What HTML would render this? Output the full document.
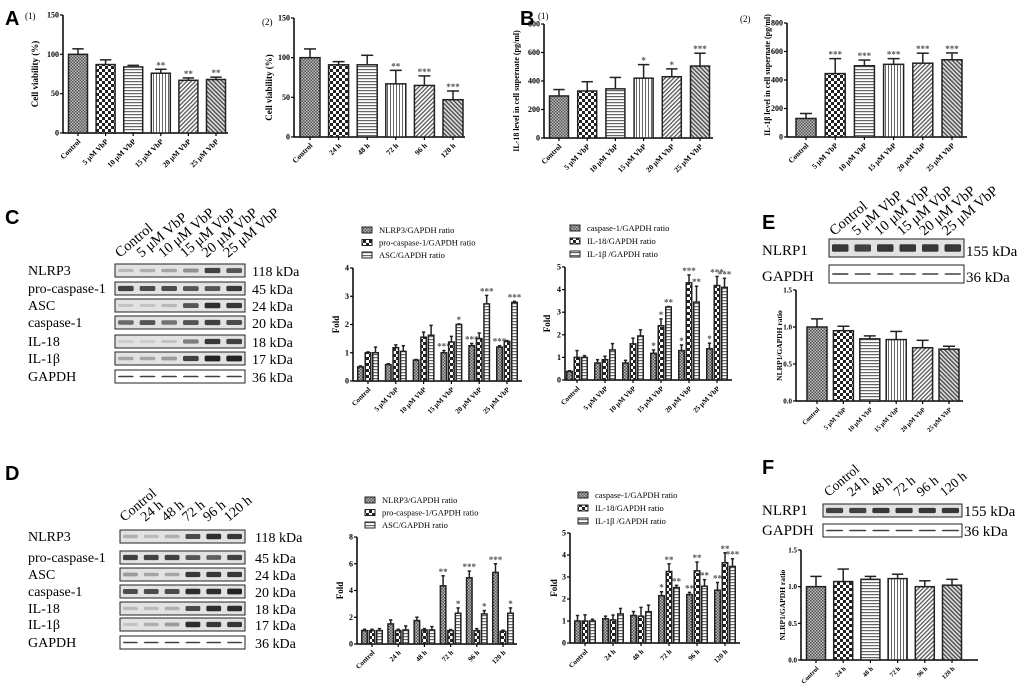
<!DOCTYPE html>
<html><head><meta charset="utf-8"><style>
html,body{margin:0;padding:0;background:#fff;width:1020px;height:694px;overflow:hidden}
svg text{font-family:"Liberation Serif",serif}
</style></head><body>
<svg id="fig" xmlns="http://www.w3.org/2000/svg" width="1020" height="694" viewBox="0 0 1020 694">
<defs>
<pattern id="pDense" width="3" height="3" patternUnits="userSpaceOnUse"><rect width="3" height="3" fill="#bbb"/><rect width="1.5" height="1.5" fill="#555"/><rect x="1.5" y="1.5" width="1.5" height="1.5" fill="#555"/></pattern>
<pattern id="pCheck" width="6" height="6" patternUnits="userSpaceOnUse"><rect width="6" height="6" fill="#222"/><rect width="3" height="3" fill="#fff"/><rect x="3" y="3" width="3" height="3" fill="#fff"/></pattern>
<pattern id="pHoriz" width="4" height="3" patternUnits="userSpaceOnUse"><rect width="4" height="3" fill="#fff"/><rect width="4" height="1.2" fill="#666"/></pattern>
<pattern id="pVert" width="3" height="4" patternUnits="userSpaceOnUse"><rect width="3" height="4" fill="#fff"/><rect width="1" height="4" fill="#666"/></pattern>
<pattern id="pDiag1" width="3" height="3" patternUnits="userSpaceOnUse" patternTransform="rotate(45)"><rect width="3" height="3" fill="#fff"/><rect width="1.3" height="3" fill="#555"/></pattern>
<pattern id="pDiag2" width="3" height="3" patternUnits="userSpaceOnUse" patternTransform="rotate(-45)"><rect width="3" height="3" fill="#ddd"/><rect width="1.3" height="3" fill="#444"/></pattern>
</defs>
<g id="root"></g>
</svg>
<script>
// ---- Data ----
const doseCats = ["Control","5 μM VbP","10 μM VbP","15 μM VbP","20 μM VbP","25 μM VbP"];
const timeCats = ["Control","24 h","48 h","72 h","96 h","120 h"];

const a1Vals = [100,87,84,76,67,68];
const a1Errs = [7,6,2,5,3,3];
const a1Stars = ["","","","**","**","**"];
const a2Vals = [100,91,91,67,65,47];
const a2Errs = [11,4,12,17,12,11];
const a2Stars = ["","","","**","***","***"];
const b1Vals = [295,330,345,420,430,505];
const b1Errs = [45,65,80,95,55,90];
const b1Stars = ["","","","*","*","***"];
const b2Vals = [130,445,500,510,518,542];
const b2Errs = [35,105,40,40,70,48];
const b2Stars = ["","***","***","***","***","***"];
const pctTicks = [0,50,100,150];
const pgTicks = [0,200,400,600,800];

const c1Nlrp3 = [0.5,0.58,0.74,1.0,1.25,1.2];
const c1Nlrp3Err = [0.03,0.03,0.02,0.08,0.08,0.05];
const c1Pro = [1.0,1.18,1.55,1.38,1.5,1.4];
const c1ProErr = [0.03,0.1,0.18,0.2,0.2,0.03];
const c1Asc = [1.0,1.05,1.62,2.0,2.73,2.78];
const c1AscErr = [0.2,0.2,0.35,0.02,0.3,0.04];
const c1Stars = [["","",""],["","",""],["","",""],["***","","*"],["***","","***"],["***","","***"]];
const c1Ticks = [0,1,2,3,4];

const c2Casp = [0.38,0.75,0.75,1.18,1.3,1.38];
const c2CaspErr = [0.03,0.15,0.12,0.15,0.25,0.25];
const c2Il18 = [1.0,0.9,1.6,2.4,4.3,4.18];
const c2Il18Err = [0.3,0.15,0.25,0.3,0.35,0.4];
const c2Il1b = [1.0,1.33,1.95,3.23,3.45,4.1];
const c2Il1bErr = [0.08,0.28,0.27,0.02,0.7,0.4];
const c2Stars = [["","",""],["","",""],["","",""],["*","*","**"],["*","***","**"],["*","***","***"]];
const c2Ticks = [0,1,2,3,4,5];

const d1Nlrp3 = [1.0,1.5,1.75,4.35,4.95,5.35];
const d1Nlrp3Err = [0.1,0.3,0.25,0.75,0.5,0.65];
const d1Pro = [1.0,1.0,1.05,1.0,1.0,0.95];
const d1ProErr = [0.1,0.1,0.1,0.08,0.15,0.08];
const d1Asc = [1.0,1.05,1.05,2.3,2.25,2.3];
const d1AscErr = [0.15,0.3,0.25,0.4,0.25,0.4];
const d1Stars = [["","",""],["","",""],["","",""],["**","","*"],["***","","*"],["***","","*"]];
const d1Ticks = [0,2,4,6,8];

const d2Casp = [1.0,1.1,1.25,2.15,2.2,2.4];
const d2CaspErr = [0.25,0.12,0.18,0.18,0.1,0.35];
const d2Il18 = [1.0,1.05,1.22,3.25,3.28,3.65];
const d2Il18Err = [0.28,0.22,0.4,0.35,0.4,0.45];
const d2Il1b = [1.0,1.32,1.42,2.52,2.58,3.48];
const d2Il1bErr = [0.08,0.25,0.3,0.1,0.3,0.35];
const d2Stars = [["","",""],["","",""],["","",""],["*","**","**"],["**","**","**"],["**","**","***"]];
const d2Ticks = [0,1,2,3,4,5];

const eVals = [1.0,0.95,0.84,0.83,0.72,0.7];
const eErrs = [0.11,0.06,0.04,0.11,0.1,0.04];
const fVals = [1.0,1.07,1.1,1.11,1.0,1.02];
const fErrs = [0.14,0.17,0.04,0.06,0.08,0.08];
const ratioTicks = [0,0.5,1.0,1.5];

const singlePats = ["pDense","pCheck","pHoriz","pVert","pDiag1","pDiag2"];
const groupPats = ["pDense","pCheck","pHoriz"];

// ---- helpers ----
const NS="http://www.w3.org/2000/svg";
const root=document.getElementById('root');
function mk(tag,attrs,parent,text){const e=document.createElementNS(NS,tag);for(const k in attrs)e.setAttribute(k,attrs[k]);if(text!==undefined)e.textContent=text;(parent||root).appendChild(e);return e;}

function axes(g,cfg,ticks,fmt){
  const y=v=>cfg.yZero-(v/cfg.max)*(cfg.yZero-cfg.yTop);
  const ax=mk('line',{x1:cfg.ax,y1:cfg.yTop,x2:cfg.ax,y2:cfg.yZero,stroke:'#000','stroke-width':1.5},g);
  
  
  const xl=mk('line',{x1:cfg.ax,y1:cfg.yZero,x2:cfg.xEnd,y2:cfg.yZero,stroke:'#000','stroke-width':1.5},g);
  
  
  ticks.forEach(t=>{
    mk('line',{x1:cfg.ax-3,y1:y(t),x2:cfg.ax,y2:y(t),stroke:'#000','stroke-width':1.2},g);
    const tl=mk('text',{x:cfg.ax-4,y:y(t)+2.5,'font-size':cfg.tfs||8,'font-weight':'bold','text-anchor':'end'},g,fmt?fmt(t):String(t));
    
    
  });
  const lx=cfg.ylx, ly=(cfg.yTop+cfg.yZero)/2+(cfg.yloff||0);
  const yl=mk('text',{x:lx,y:ly,'font-size':cfg.ylfs||9,'font-weight':'bold','text-anchor':'middle',transform:`rotate(-90 ${lx} ${ly})`},g,cfg.ylabel);
  
  
  return y;
}
function catLabels(g,cfg,cats,cx){
  cats.forEach((c,i)=>{
    const x=cx(i);
    mk('line',{x1:x,y1:cfg.yZero,x2:x,y2:cfg.yZero+3,stroke:'#000','stroke-width':1.2},g);
    const t=mk('text',{x:x+3,y:cfg.yZero+9,'font-size':cfg.cfs||7.5,'font-weight':'bold','text-anchor':'end',transform:`rotate(-45 ${x+3} ${cfg.yZero+9})`},g,c);
    
    
  });
}
function bar(g,x,w,v,e,y,pat,star){
  const r=mk('rect',{x:x-w/2,y:y(v),width:w,height:y(0)-y(v),fill:`url(#${pat})`,stroke:'#222','stroke-width':1.5},g);
  
  
  const ye=y(v+e);
  mk('line',{x1:x,y1:y(v),x2:x,y2:ye,stroke:'#222','stroke-width':1.5},g);
  mk('line',{x1:x-w*0.3,y1:ye,x2:x+w*0.3,y2:ye,stroke:'#222','stroke-width':1.5},g);
  if(star){const s=mk('text',{x:x,y:ye-1,'font-size':9,'font-weight':'bold','text-anchor':'middle',fill:'#555'},g,star);
    
    }
}
function singleChart(name,cfg,cats,vals,errs,stars,ticks,fmt){
  const g=mk('g',{});
  
  
  const y=axes(g,cfg,ticks,fmt);
  const cx=i=>cfg.c0+i*(cfg.cN-cfg.c0)/(cats.length-1);
  vals.forEach((v,i)=>bar(g,cx(i),cfg.bw,v,errs[i],y,singlePats[i],stars?stars[i]:""));
  catLabels(g,cfg,cats,cx);
}
function groupChart(name,cfg,cats,series,errsArr,stars,ticks,legend){
  const g=mk('g',{});
  
  
  const y=axes(g,cfg,ticks);
  const cx=i=>cfg.c0+i*(cfg.cN-cfg.c0)/(cats.length-1);
  series.forEach((s,k)=>s.forEach((v,i)=>bar(g,cx(i)+(k-1)*(cfg.bw+2),cfg.bw,v,errsArr[k][i],y,groupPats[k],stars[i][k])));
  catLabels(g,cfg,cats,cx);
  legend.forEach((l,k)=>{
    const ly=cfg.legY+k*cfg.legDy;
    mk('rect',{x:cfg.legX,y:ly-5,width:10,height:6,fill:`url(#${groupPats[k]})`,stroke:'#222','stroke-width':1},g);
    const t=mk('text',{x:cfg.legX+17,y:ly+1,'font-size':8.5},g,l);
    
    
  });
}
const pctFmt=t=>String(t);
const ratioFmt=t=>t.toFixed(1);

// Panel A
singleChart('chart-a1',{ax:63,yTop:15,yZero:133,xEnd:228,max:150,c0:78,cN:216,bw:19,ylx:38,ylabel:'Cell viability (%)'},doseCats,a1Vals,a1Errs,a1Stars,pctTicks,pctFmt);
singleChart('chart-a2',{ax:294,yTop:18,yZero:137,xEnd:465,max:150,c0:310,cN:453,bw:20,ylx:272,yloff:10,ylabel:'Cell viability (%)'},timeCats,a2Vals,a2Errs,a2Stars,pctTicks,pctFmt);
// Panel B
singleChart('chart-b1',{ax:544,yTop:24,yZero:138,xEnd:713,max:800,c0:559,cN:700,bw:19,ylx:519,ylfs:8,yloff:10,ylabel:'IL-18 level in cell supernate (pg/ml)'},doseCats,b1Vals,b1Errs,b1Stars,pgTicks,pctFmt);
singleChart('chart-b2',{ax:787,yTop:23,yZero:137,xEnd:967,max:800,c0:806,cN:952,bw:20,ylx:770,ylfs:8,yloff:-5,ylabel:'IL-1β  level in cell supernate (pg/ml)'},doseCats,b2Vals,b2Errs,b2Stars,pgTicks,pctFmt);
// Panel C charts
groupChart('chart-c1',{ax:353,yTop:268,yZero:381,xEnd:522,max:4,c0:368,cN:507,bw:5.5,ylx:339,ylabel:'Fold',legX:362,legY:232,legDy:12.5,cfs:7},doseCats,[c1Nlrp3,c1Pro,c1Asc],[c1Nlrp3Err,c1ProErr,c1AscErr],c1Stars,c1Ticks,['NLRP3/GAPDH ratio','pro-caspase-1/GAPDH ratio','ASC/GAPDH ratio']);
groupChart('chart-c2',{ax:565,yTop:267,yZero:380,xEnd:732,max:5,c0:577,cN:717,bw:5.5,ylx:550,ylabel:'Fold',legX:570,legY:230,legDy:13,cfs:7},doseCats,[c2Casp,c2Il18,c2Il1b],[c2CaspErr,c2Il18Err,c2Il1bErr],c2Stars,c2Ticks,['caspase-1/GAPDH ratio','IL-18/GAPDH ratio','IL-1β /GAPDH ratio']);
// Panel D charts
groupChart('chart-d1',{ax:357,yTop:537,yZero:644,xEnd:517,max:8,c0:372,cN:503,bw:5.5,ylx:343,ylabel:'Fold',legX:365,legY:502,legDy:12.5,cfs:7},timeCats,[d1Nlrp3,d1Pro,d1Asc],[d1Nlrp3Err,d1ProErr,d1AscErr],d1Stars,d1Ticks,['NLRP3/GAPDH ratio','pro-caspase-1/GAPDH ratio','ASC/GAPDH ratio']);
groupChart('chart-d2',{ax:570,yTop:533,yZero:643,xEnd:740,max:5,c0:585,cN:725,bw:5.5,ylx:557,ylabel:'Fold',legX:578,legY:497,legDy:13,cfs:7},timeCats,[d2Casp,d2Il18,d2Il1b],[d2CaspErr,d2Il18Err,d2Il1bErr],d2Stars,d2Ticks,['caspase-1/GAPDH ratio','IL-18/GAPDH ratio','IL-1β /GAPDH ratio']);
// E & F charts
singleChart('chart-e',{ax:796,yTop:290,yZero:401,xEnd:963,max:1.5,c0:817,cN:949,bw:20,ylx:782,ylfs:7.5,tfs:7,ylabel:'NLRP1/GAPDH ratio',cfs:6.5},doseCats,eVals,eErrs,null,ratioTicks,ratioFmt);
singleChart('chart-f',{ax:801,yTop:550,yZero:660,xEnd:978,max:1.5,c0:816,cN:952,bw:19,ylx:785,ylfs:7.5,tfs:7,ylabel:'NLRP1/GAPDH ratio',cfs:6.5},timeCats,fVals,fErrs,null,ratioTicks,ratioFmt);

// Panel letters and sub-labels
[['A',5,25],['B',520,25],['C',5,224],['D',5,480],['E',762,229],['F',762,474]].forEach(([t,x,y])=>{
  const e=mk('text',{x:x,y:y,'font-size':20,'font-weight':'bold',style:'font-family:"Liberation Sans",sans-serif'},root,t);
  
  
});
[['(1)',25,19],['(2)',262,25],['(1)',538,19],['(2)',740,22]].forEach(([t,x,y])=>{
  const e=mk('text',{x:x,y:y,'font-size':9},root,t);
  
  
});

// ---- Western blots ----
const cBlotRows = ["NLRP3","pro-caspase-1","ASC","caspase-1","IL-18","IL-1β","GAPDH"];
const cBlotKda = ["118 kDa","45 kDa","24 kDa","20 kDa","18 kDa","17 kDa","36 kDa"];
const cBand = [[0.2,0.25,0.3,0.4,0.8,0.7],[0.8,0.75,0.75,0.7,0.7,0.85],[0.15,0.15,0.2,0.7,0.9,0.85],[0.6,0.7,0.55,0.7,0.8,0.75],[0.1,0.1,0.15,0.5,0.85,0.8],[0.3,0.3,0.35,0.8,0.95,0.95],[0.8,0.8,0.8,0.8,0.8,0.8]];
const dBand = [[0.25,0.2,0.25,0.75,0.9,0.85],[0.8,0.8,0.8,0.7,0.65,0.8],[0.35,0.3,0.3,0.85,0.85,0.85],[0.75,0.75,0.75,0.9,0.9,0.95],[0.2,0.2,0.25,0.75,0.9,0.9],[0.15,0.25,0.35,0.9,0.85,0.85],[0.8,0.8,0.8,0.8,0.8,0.8]];
const eBand = [[0.85,0.8,0.85,0.85,0.85,0.85],[0.85,0.8,0.8,0.8,0.8,0.8]];
const fBand = [[0.8,0.8,0.85,0.85,0.85,0.85],[0.8,0.8,0.8,0.8,0.8,0.8]];

function blot(name,x0,x1,rowsY,rowH,labels,kda,bands,lanes,laneLabelY,lblX,kdaX,fs,laneFs,gapdhLast){
  const g=mk('g',{});
  
  
  const lw=(x1-x0)/6;
  lanes.forEach((l,i)=>{
    const lx=x0+lw*(i+0.5)-6;
    const t=mk('text',{x:lx,y:laneLabelY,'font-size':laneFs,transform:`rotate(-40 ${lx} ${laneLabelY})`},g,l);
    
    
  });
  labels.forEach((lab,r)=>{
    const y=rowsY[r];
    const thin=(r===labels.length-1&&gapdhLast);
    mk('rect',{x:x0,y:y,width:x1-x0,height:rowH,fill:thin?'#fff':'#e2e2e2',stroke:'#222','stroke-width':1},g);
    bands[r].forEach((b,i)=>{
      const c=Math.round(225-b*200);
      const h=thin?1.6:Math.max(2,rowH*0.2+b*rowH*0.25);
      mk('rect',{x:x0+lw*i+3,y:y+rowH/2-h/2,width:lw-6,height:h,rx:1.5,fill:`rgb(${c},${c},${c})`},g);
    });
    const t=mk('text',{x:lblX,y:y+rowH-2,'font-size':fs},g,lab);
    
    
    const k=mk('text',{x:kdaX,y:y+rowH-1,'font-size':fs},g,kda[r]);
    
    
  });
}
blot('blot-c',115,245,[264,282,299,316,335,352,370],13,cBlotRows,cBlotKda,cBand,doseCats,258,28,252,14,14.5,true);
blot('blot-d',120,245,[530,551,568,585,602,618,636],13,cBlotRows,cBlotKda,dBand,timeCats,522,28,255,14,14,true);
blot('blot-e',829,964,[239,265],18,["NLRP1","GAPDH"],["155 kDa","36 kDa"],eBand,doseCats,236,762,966,15,14.5,true);
blot('blot-f',823,962,[504,524],13,["NLRP1","GAPDH"],["155 kDa","36 kDa"],fBand,timeCats,497,762,964,15,13.5,true);
</script>
</body></html>
